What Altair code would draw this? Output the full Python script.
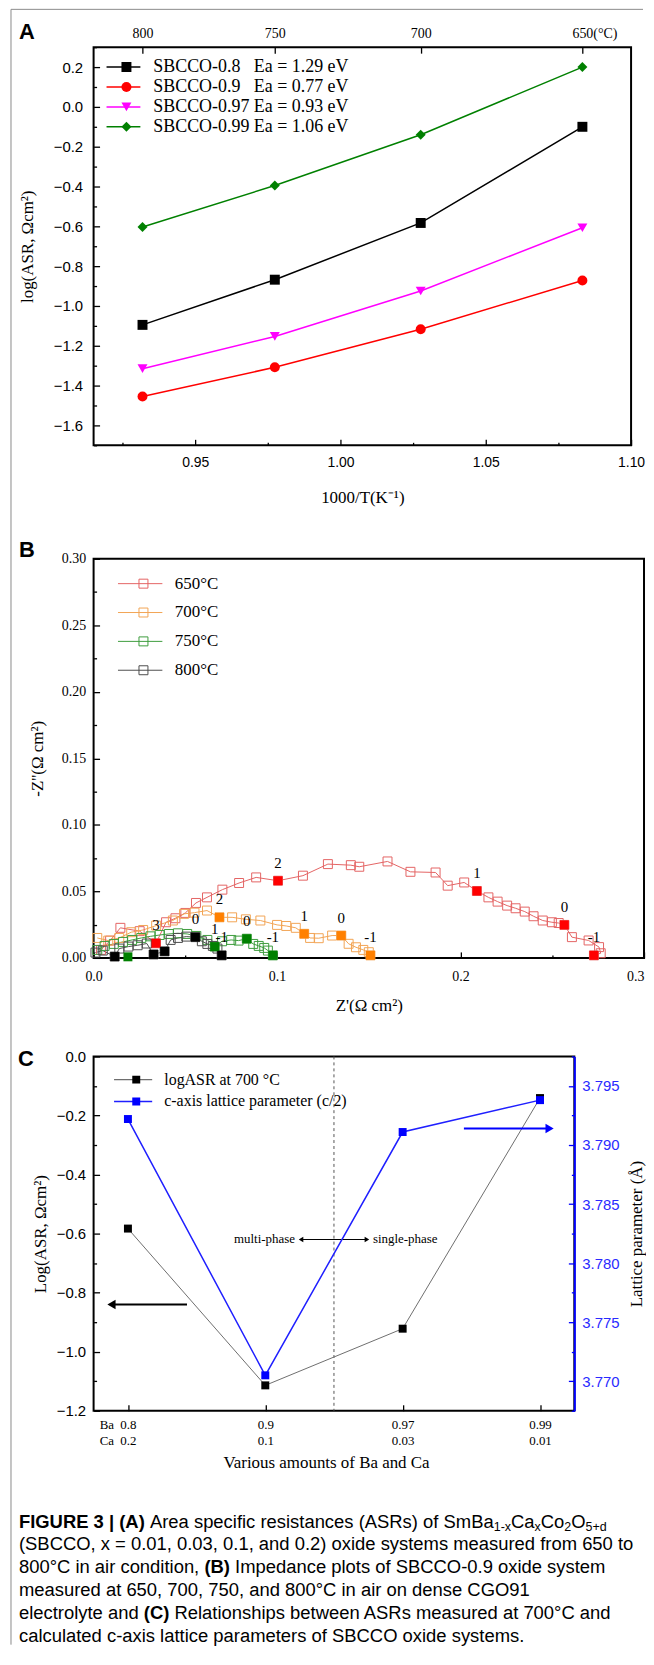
import altair as alt
import pandas as pd

SERIF = "Liberation Serif"
SANS = "Liberation Sans"
NB = "\u00a0"

# ---------------- Panel A data ----------------
temps_A = [800, 750, 700, 650]
names_A = ["SBCCO-0.8", "SBCCO-0.9", "SBCCO-0.97", "SBCCO-0.99"]
ea_A = ["1.29", "0.77", "0.93", "1.06"]
asr_08 = [-1.095, -0.868, -0.583, -0.100]
asr_09 = [-1.455, -1.308, -1.117, -0.872]
asr_097 = [-1.315, -1.153, -0.925, -0.607]
asr_099 = [-0.603, -0.395, -0.140, 0.200]
colors_A = ["#000000", "#ff0000", "#ff00ff", "#008000"]
shapes_A = ["square", "circle", "triangle-down", "diamond"]

# ---------------- Panel B data ----------------
temps_B = ["650°C", "700°C", "750°C", "800°C"]
zr_650 = [0.004, 0.009, 0.0146, 0.0251, 0.034, 0.0395, 0.0446, 0.0500, 0.0558, 0.0618, 0.0702, 0.0793, 0.0886,
          0.1005, 0.1141, 0.1277, 0.1402, 0.1448, 0.1602, 0.1727, 0.1864, 0.1930, 0.2020, 0.2089, 0.2152, 0.2202,
          0.2254, 0.2300, 0.2350, 0.2398, 0.2448, 0.2498, 0.2535, 0.2566, 0.2607, 0.2698, 0.2755, 0.2764, 0.2727]
zi_650 = [0.006, 0.013, 0.0226, 0.0201, 0.011, 0.0268, 0.0298, 0.0338, 0.0413, 0.0455, 0.0513, 0.0563, 0.0605,
          0.058, 0.0618, 0.0705, 0.0697, 0.0685, 0.0725, 0.0647, 0.0642, 0.0543, 0.0567, 0.0503, 0.0455, 0.0423,
          0.0393, 0.0373, 0.0348, 0.0313, 0.0281, 0.0268, 0.0262, 0.0248, 0.0156, 0.0131, 0.0081, 0.0035, 0.0019]
zr_700 = [0.002, 0.008, 0.014, 0.0205, 0.027, 0.0341, 0.0432, 0.0493, 0.055, 0.0618, 0.0686, 0.0755, 0.083,
          0.0909, 0.100, 0.105, 0.1102, 0.1148, 0.118, 0.1227, 0.130, 0.135, 0.139, 0.143, 0.147, 0.150, 0.1509]
zi_700 = [0.015, 0.013, 0.015, 0.0193, 0.021, 0.0243, 0.0281, 0.0331, 0.034, 0.0356, 0.0305, 0.0305, 0.029,
          0.0281, 0.0248, 0.024, 0.0226, 0.0181, 0.015, 0.0148, 0.0168, 0.0168, 0.0106, 0.008, 0.006, 0.0043, 0.0019]
zr_750 = [0.002, 0.006, 0.011, 0.016, 0.021, 0.026, 0.031, 0.036, 0.041, 0.046, 0.051, 0.056, 0.062, 0.066,
          0.070, 0.075, 0.079, 0.0835, 0.087, 0.090, 0.093, 0.095, 0.0977]
zi_750 = [0.006, 0.009, 0.0105, 0.012, 0.0135, 0.015, 0.0162, 0.0172, 0.018, 0.0185, 0.018, 0.0165, 0.0135,
          0.0085, 0.0125, 0.0135, 0.013, 0.0144, 0.0105, 0.009, 0.0075, 0.0055, 0.0019]
zr_800 = [0.001, 0.005, 0.0115, 0.014, 0.019, 0.024, 0.029, 0.0327, 0.0387, 0.042, 0.046, 0.0505, 0.0555,
          0.059, 0.062, 0.065, 0.0675, 0.0698]
zi_800 = [0.004, 0.0055, 0.001, 0.007, 0.0085, 0.0095, 0.0108, 0.0026, 0.0049, 0.0135, 0.015, 0.016, 0.0156,
          0.0125, 0.0105, 0.009, 0.007, 0.0019]
# decade markers (filled) with log(f) labels
fr_650 = [0.034, 0.1005, 0.2089, 0.2566, 0.2727]
fi_650 = [0.011, 0.058, 0.0503, 0.0248, 0.0019]
fl_650 = ["3", "2", "1", "0", "-1"]
fr_700 = [0.0686, 0.1148, 0.135, 0.1509]
fi_700 = [0.0305, 0.0181, 0.0168, 0.0019]
fl_700 = ["2", "1", "0", "-1"]
fr_750 = [0.0187, 0.066, 0.0835, 0.0977]
fi_750 = [0.0008, 0.0085, 0.0144, 0.0019]
fl_750 = ["", "1", "0", "-1"]
fr_800 = [0.0115, 0.0327, 0.0387, 0.0555, 0.0698]
fi_800 = [0.001, 0.0026, 0.0049, 0.0156, 0.0019]
fl_800 = ["", "", "", "0", "-1"]
open_colors_B = ["#e46464", "#f2a455", "#3d9c3d", "#4d4d4d"]
fill_colors_B = ["#ff0000", "#ff8000", "#008000", "#000000"]

# ---------------- Panel C data ----------------
ba_C = ["0.8", "0.9", "0.97", "0.99"]
ca_C = ["0.2", "0.1", "0.03", "0.01"]
logasr_700 = [-0.583, -1.114, -0.922, -0.141]
lattice_c2 = [3.7922, 3.7705, 3.7911, 3.7938]
names_C = ["logASR at 700 °C", "c-axis lattice parameter (c/2)"]
colors_C_line = ["#6e6e6e", "#1f1fff"]
colors_C_pt = ["#000000", "#0000ff"]
phase_boundary = [1.5]

# ---------------- helpers ----------------
ONE = pd.DataFrame({"o": [0]})


def ax(**kw):
    base = dict(grid=False, domain=False, tickColor="black", tickWidth=1.3, labelColor="black",
                titleColor="black", titleFont=SERIF, titleFontWeight="normal", titleFontSize=17,
                titleBaseline="middle", titleAlign="center",
                labelFontSize=14, labelFlush=False, labelOverlap=False)
    base.update(kw)
    return alt.Axis(**base)


def cond_tick(test, major=-6, minor=-3):
    return {"condition": {"test": test, "value": major}, "value": minor}


def txt(text, x, y, **kw):
    return alt.Chart(ONE).mark_text(text=text, **kw).encode(x=alt.value(x), y=alt.value(y))


def legend_common(**kw):
    base = dict(orient="none", title=None, direction="vertical", rowPadding=0, padding=0)
    base.update(kw)
    return alt.Legend(**base)


# ======================= PANEL A =======================
WA, HA = 540, 400
invT_A = [1000.0 / (t + 273.15) for t in temps_A]
labels_A = [n + (NB * 3 if len(n) < 10 else " ") + "Ea = " + e + " eV" for n, e in zip(names_A, ea_A)]
lkeys_A = [n + "|line" for n in names_A]
rowsA = []
for lab, lk, vals in zip(labels_A, lkeys_A, [asr_08, asr_09, asr_097, asr_099]):
    for xv, yv in zip(invT_A, vals):
        rowsA.append({"label": lab, "lkey": lk, "invT": xv, "logASR": yv})
dfA = pd.DataFrame(rowsA)

xA = alt.Scale(domain=[0.915, 1.10], nice=False, zero=False)
yA = alt.Scale(domain=[-1.7, 0.3], nice=False, zero=False)
xA_ticks = [round(0.925 + 0.025 * i, 3) for i in range(8)]
yA_ticks = [round(-1.7 + 0.1 * i, 1) for i in range(21)]
majA_x = "round(datum.value*1000) % 50 == 0"
majA_y = "abs(round(datum.value*10)) % 2 == 0"

axA_b = ax(values=xA_ticks, labelExpr=f"{majA_x} ? format(datum.value, '.2f') : ''",
           tickSize=cond_tick(majA_x), labelFont=SANS, labelPadding=16,
           title="1000/T(K⁻¹)", titleX=WA / 2, titleY=52)
axA_l = ax(values=yA_ticks, labelExpr=f"{majA_y} ? format(datum.value, '.1f') : ''",
           tickSize=cond_tick(majA_y), labelFont=SANS, labelFontSize=15, labelPadding=17,
           title="log(ASR, Ωcm²)", titleX=-66, titleY=HA / 2, titleAngle=270)
is650 = "round(1000/datum.value - 273.15) == 650"
axA_t = ax(orient="top", values=invT_A, title=None, labelFont=SERIF, labelFontSize=14,
           labelExpr=f"{is650} ? '650(°C)' : '' + round(1000/datum.value - 273.15)",
           labelAlign={"condition": {"test": is650, "value": "left"}, "value": "center"},
           labelOffset={"condition": {"test": is650, "value": -10.5}, "value": 0},
           tickSize={"expr": "-6"}, labelPadding=13)

lineA = alt.Chart(dfA).mark_line(strokeWidth=1.5).encode(
    x=alt.X("invT:Q", scale=xA, axis=axA_b),
    y=alt.Y("logASR:Q", scale=yA, axis=axA_l),
    stroke=alt.Stroke("lkey:N", scale=alt.Scale(domain=lkeys_A, range=colors_A),
                      legend=legend_common(legendX=12, legendY=10, symbolType="stroke", symbolSize=34 * 34,
                                           symbolStrokeWidth=1.5, clipHeight=20, labelExpr="''")),
    order=alt.Order("invT:Q"),
)
legA = legend_common(legendX=24, legendY=10, symbolSize=100, clipHeight=20, labelFont=SERIF,
                     labelFontSize=18, labelColor="black", labelOffset=18, labelLimit=400)
pointA = alt.Chart(dfA).mark_point(filled=True, opacity=1, size=100).encode(
    x=alt.X("invT:Q", scale=xA, axis=axA_t),
    y=alt.Y("logASR:Q", scale=yA, axis=axA_l),
    color=alt.Color("label:N", scale=alt.Scale(domain=labels_A, range=colors_A), legend=legA),
    shape=alt.Shape("label:N", scale=alt.Scale(domain=labels_A, range=shapes_A), legend=legA),
)
frame_v = alt.Chart(ONE).mark_rule(color="#8a8a8a", strokeWidth=1).encode(
    x=alt.value(-83), y=alt.value(-38), y2=alt.value(1605))
frame_h = alt.Chart(ONE).mark_rule(color="#8a8a8a", strokeWidth=1).encode(
    x=alt.value(-83), x2=alt.value(552), y=alt.value(-38))
letterA = txt("A", -67, -15, font=SANS, fontSize=22, fontWeight="bold", align="center", baseline="middle")

panelA = alt.layer(lineA, pointA, frame_v, frame_h, letterA).resolve_axis(x="independent").properties(
    width=WA, height=HA, view=alt.ViewBackground(stroke="black", strokeWidth=2))

# ======================= PANEL B =======================
WB, HB = 553, 401
open_sets = [(zr_650, zi_650), (zr_700, zi_700), (zr_750, zi_750), (zr_800, zi_800)]
fill_sets = [(fr_650, fi_650, fl_650), (fr_700, fi_700, fl_700), (fr_750, fi_750, fl_750), (fr_800, fi_800, fl_800)]
lkeys_B = [t + "|line" for t in temps_B]
fkeys_B = [t + "|fill" for t in temps_B]
rowsB, rowsBf = [], []
for t, lk, (xs, ys) in zip(temps_B, lkeys_B, open_sets):
    for k, (xv, yv) in enumerate(zip(xs, ys)):
        rowsB.append({"T": t, "lkey": lk, "k": k, "zr": xv, "zi": yv})
for fk, (xs, ys, ls) in zip(fkeys_B, fill_sets):
    for xv, yv, lv in zip(xs, ys, ls):
        rowsBf.append({"fkey": fk, "zr": xv, "zi": yv, "lab": lv})
dfB = pd.DataFrame(rowsB)
dfBf = pd.DataFrame(rowsBf)
dfBl = dfBf[dfBf["lab"] != ""]

xB = alt.Scale(domain=[0, 0.3], nice=False, zero=False)
yB = alt.Scale(domain=[0, 0.3], nice=False, zero=False)
xB_ticks = [round(0.05 * i, 2) for i in range(7)]
yB_ticks = [round(0.025 * i, 3) for i in range(13)]
majB_x = "round(datum.value*100) % 10 == 0"
majB_y = "round(datum.value*1000) % 50 == 0"
axB_b = ax(values=xB_ticks, labelExpr=f"{majB_x} ? format(datum.value, '.1f') : ''",
           tickSize=cond_tick(majB_x), labelFont=SERIF, labelFontSize=14, labelPadding=18,
           labelAlign={"condition": {"test": "datum.value > 0.29", "value": "right"}, "value": "center"},
           title="Z'(Ω cm²)", titleX=WB / 2, titleY=47.5)
axB_l = ax(values=yB_ticks, labelExpr=f"{majB_y} ? format(datum.value, '.2f') : ''",
           tickSize=cond_tick(majB_y), labelFont=SERIF, labelFontSize=14, labelPadding=14,
           title="-Z''(Ω cm²)", titleX=-56, titleY=HB / 2, titleAngle=270)
XB = dict(scale=xB, axis=axB_b)
YB = dict(scale=yB, axis=axB_l)

lineB = alt.Chart(dfB).mark_line(strokeWidth=1).encode(
    x=alt.X("zr:Q", **XB),
    y=alt.Y("zi:Q", **YB),
    stroke=alt.Stroke("lkey:N", scale=alt.Scale(domain=lkeys_B, range=open_colors_B),
                      legend=legend_common(legendX=23.8, legendY=10.85, symbolType="stroke", symbolSize=1989,
                                           symbolStrokeWidth=1, clipHeight=28.3, labelExpr="''")),
    order=alt.Order("k:Q"),
)
openB = alt.Chart(dfB).mark_point(shape="square", filled=False, size=81, strokeWidth=1, opacity=1).encode(
    x=alt.X("zr:Q", **XB),
    y=alt.Y("zi:Q", **YB),
    color=alt.Color("T:N", scale=alt.Scale(domain=temps_B, range=open_colors_B),
                    legend=legend_common(legendX=41.6, legendY=10.85, symbolType="square", symbolSize=81,
                                         symbolStrokeWidth=1, clipHeight=28.3, labelFont=SERIF, labelFontSize=17,
                                         labelColor="black", labelOffset=23)),
)
fillB = alt.Chart(dfBf).mark_point(shape="square", filled=True, size=81, opacity=1).encode(
    x=alt.X("zr:Q", **XB),
    y=alt.Y("zi:Q", **YB),
    fill=alt.Fill("fkey:N", scale=alt.Scale(domain=fkeys_B, range=fill_colors_B), legend=None),
)
textB = alt.Chart(dfBl).mark_text(font=SERIF, fontSize=15, dy=-18, color="black").encode(
    x=alt.X("zr:Q", **XB),
    y=alt.Y("zi:Q", **YB),
    text="lab:N",
)
letterB = txt("B", -67, -9, font=SANS, fontSize=22, fontWeight="bold", align="center", baseline="middle")
panelB = alt.layer(lineB, openB, fillB, textB, letterB).properties(
    width=WB, height=HB, view=alt.ViewBackground(stroke="black", strokeWidth=2))

# ======================= PANEL C =======================
WC, HC = 483, 356
idx_C = list(range(len(ba_C)))
dfC1 = pd.DataFrame({"i": idx_C, "v": logasr_700, "name": names_C[0], "lkey": names_C[0] + "|line"})
dfC2 = pd.DataFrame({"i": idx_C, "v": lattice_c2, "name": names_C[1], "lkey": names_C[1] + "|line"})
lkeys_C = [n + "|line" for n in names_C]

xC = alt.Scale(domain=[-0.25, 3.25], nice=False, zero=False)
yC1 = alt.Scale(domain=[-1.2, 0.0], nice=False, zero=False)
yC2 = alt.Scale(domain=[3.7675, 3.7975], nice=False, zero=False)
yC1_ticks = [round(-1.2 + 0.1 * i, 1) for i in range(13)]
yC2_ticks = [round(3.7675 + 0.0025 * i, 4) for i in range(13)]
majC1 = "abs(round(datum.value*10)) % 2 == 0"
majC2 = "round(datum.value*10000) % 50 == 0"
ba_js = "[" + ",".join(f"'{b}'" for b in ba_C) + "]"
ca_js = "[" + ",".join(f"'{c}'" for c in ca_C) + "]"
axC_b = ax(values=idx_C, labelExpr=f"[{ba_js}[datum.value], {ca_js}[datum.value]]",
           tickSize={"expr": "-6"}, labelFont=SERIF, labelFontSize=13, labelLineHeight=16.6,
           labelPadding=13.5, title="Various amounts of Ba and Ca", titleX=WC / 2 - 8, titleY=52.3)
axC_l = ax(values=yC1_ticks, labelExpr=f"{majC1} ? format(datum.value, '.1f') : ''",
           tickSize=cond_tick(majC1), labelFont=SANS, labelFontSize=15, labelPadding=14,
           title="Log(ASR, Ωcm²)", titleX=-53, titleY=HC / 2, titleAngle=270)
axC_r = ax(orient="right", values=yC2_ticks, labelExpr=f"{majC2} ? format(datum.value, '.3f') : ''",
           tickSize=cond_tick(majC2), labelFont=SANS, labelFontSize=15, labelPadding=13.5,
           labelColor="#2a2aff", tickColor="#0000ff", domain=True, domainColor="#0000ff", domainWidth=2,
           title="Lattice parameter (Å)", titleX=62, titleY=HC / 2, titleAngle=270)
XC = dict(scale=xC, axis=axC_b)
YC1 = dict(scale=yC1, axis=axC_l)
YC2 = dict(scale=yC2, axis=axC_r)

strokeC = alt.Stroke("lkey:N", scale=alt.Scale(domain=lkeys_C, range=colors_C_line),
                     legend=legend_common(legendX=19.7, legendY=12.45, symbolType="stroke", symbolSize=1467,
                                          symbolStrokeWidth=1.5, clipHeight=21.7, labelExpr="''"))
colorC = alt.Color("name:N", scale=alt.Scale(domain=names_C, range=colors_C_pt),
                   legend=legend_common(legendX=34.85, legendY=12.45, symbolType="square", symbolSize=64,
                                        clipHeight=21.7, labelFont=SERIF, labelFontSize=16, labelColor="black",
                                        labelOffset=20.15, labelLimit=400))

asr_line = alt.Chart(dfC1).mark_line(strokeWidth=1).encode(
    x=alt.X("i:Q", **XC), y=alt.Y("v:Q", **YC1), stroke=strokeC)
asr_pts = alt.Chart(dfC1).mark_point(shape="square", filled=True, size=64, opacity=1).encode(
    x=alt.X("i:Q", **XC), y=alt.Y("v:Q", **YC1), color=colorC)
bound = alt.Chart(pd.DataFrame({"b": phase_boundary})).mark_rule(
    color="#555555", strokeWidth=1, strokeDash=[3, 3]).encode(
    x=alt.X("b:Q", **XC), y=alt.value(0), y2=alt.value(HC))
# annotation: multi-phase <-> single-phase
ann = pd.DataFrame({"x0": [1.26], "x1": [1.74], "y": [-0.62]})
ann_rule = alt.Chart(ann).mark_rule(color="black", strokeWidth=1).encode(
    x=alt.X("x0:Q", **XC), x2="x1:Q", y=alt.Y("y:Q", **YC1))
ann_l = alt.Chart(ann).mark_point(shape="triangle-left", filled=True, size=28, color="black", opacity=1).encode(
    x=alt.X("x0:Q", **XC), y=alt.Y("y:Q", **YC1))
ann_r = alt.Chart(ann).mark_point(shape="triangle-right", filled=True, size=28, color="black", opacity=1).encode(
    x=alt.X("x1:Q", **XC), y=alt.Y("y:Q", **YC1))
ann_t1 = alt.Chart(ann).mark_text(text="multi-phase", font=SERIF, fontSize=13, align="right", dx=-6,
                                  color="black").encode(
    x=alt.X("x0:Q", **XC), y=alt.Y("y:Q", **YC1))
ann_t2 = alt.Chart(ann).mark_text(text="single-phase", font=SERIF, fontSize=13, align="left", dx=6,
                                  color="black").encode(
    x=alt.X("x1:Q", **XC), y=alt.Y("y:Q", **YC1))
# arrow pointing to the left axis
arrL = pd.DataFrame({"x0": [0.43], "x1": [-0.12], "y": [-0.84]})
arrL_rule = alt.Chart(arrL).mark_rule(color="black", strokeWidth=2).encode(
    x=alt.X("x0:Q", **XC), x2="x1:Q", y=alt.Y("y:Q", **YC1))
arrL_head = alt.Chart(arrL).mark_point(shape="triangle-left", filled=True, size=90, color="black",
                                       opacity=1).encode(
    x=alt.X("x1:Q", **XC), y=alt.Y("y:Q", **YC1))
# Ba / Ca row captions
ba_txt = alt.Chart(pd.DataFrame({"i": [0]})).mark_text(text="Ba", font=SERIF, fontSize=13, align="right",
                                                        dx=-14, color="black").encode(
    x=alt.X("i:Q", **XC), y=alt.value(HC + 14))
ca_txt = alt.Chart(pd.DataFrame({"i": [0]})).mark_text(text="Ca", font=SERIF, fontSize=13, align="right",
                                                        dx=-14, color="black").encode(
    x=alt.X("i:Q", **XC), y=alt.value(HC + 30.6))
letterC = txt("C", -68, 2.3, font=SANS, fontSize=22, fontWeight="bold", align="center", baseline="middle")

lat_line = alt.Chart(dfC2).mark_line(strokeWidth=1.5).encode(
    x=alt.X("i:Q", **XC), y=alt.Y("v:Q", **YC2), stroke=strokeC)
lat_pts = alt.Chart(dfC2).mark_point(shape="square", filled=True, size=64, opacity=1).encode(
    x=alt.X("i:Q", **XC), y=alt.Y("v:Q", **YC2), color=colorC)
arrR = pd.DataFrame({"x0": [2.446], "x1": [3.07], "y": [3.7914]})
arrR_rule = alt.Chart(arrR).mark_rule(color="#0000ff", strokeWidth=2).encode(
    x=alt.X("x0:Q", **XC), x2="x1:Q", y=alt.Y("y:Q", **YC2))
arrR_head = alt.Chart(arrR).mark_point(shape="triangle-right", filled=True, size=90, color="#0000ff",
                                       opacity=1).encode(
    x=alt.X("x1:Q", **XC), y=alt.Y("y:Q", **YC2))

leftC = alt.layer(bound, asr_line, asr_pts, ann_rule, ann_l, ann_r, ann_t1, ann_t2, arrL_rule, arrL_head,
                  ba_txt, ca_txt, letterC)
rightC = alt.layer(lat_line, lat_pts, arrR_rule, arrR_head)
panelC = alt.layer(leftC, rightC).resolve_scale(y="independent").properties(
    width=WC, height=HC, view=alt.ViewBackground(stroke="black", strokeWidth=2))

# ======================= CAPTION =======================
REG = dict(zip(" ()+,-./=|°", [278, 333, 333, 584, 278, 333, 278, 278, 584, 260, 400]))
REG.update({d: 556 for d in "0123456789"})
REG.update(dict(zip("ABCDEFGHIJKLMNOPQRSTUVWXYZ",
                    [667, 667, 722, 722, 667, 611, 778, 722, 278, 500, 667, 556, 833, 722, 778, 667, 778, 722, 667,
                     611, 722, 667, 944, 667, 667, 611])))
REG.update(dict(zip("abcdefghijklmnopqrstuvwxyz",
                    [556, 556, 500, 556, 556, 278, 556, 556, 222, 222, 500, 222, 833, 556, 556, 556, 556, 333, 500,
                     278, 556, 500, 722, 500, 500, 500])))
BOLD = dict(REG)
BOLD.update({"A": 722, "B": 722, "C": 722, "F": 611, "G": 778, "I": 278, "R": 722, "U": 722, "E": 667, "|": 280})


def tw(s, fs, bold=False):
    tab = BOLD if bold else REG
    return sum(tab.get(ch, 556) for ch in s) * fs / 1000.0


cap_lines = [
    [("FIGURE 3 | (A)", "b"), (" Area specific resistances (ASRs) of SmBa", "n"), ("1-x", "s"), ("Ca", "n"),
     ("x", "s"), ("Co", "n"), ("2", "s"), ("O", "n"), ("5+d", "s")],
    [("(SBCCO, x = 0.01, 0.03, 0.1, and 0.2) oxide systems measured from 650 to", "n")],
    [("800°C in air condition, ", "n"), ("(B)", "b"), (" Impedance plots of SBCCO-0.9 oxide system", "n")],
    [("measured at 650, 700, 750, and 800°C in air on dense CGO91", "n")],
    [("electrolyte and ", "n"), ("(C)", "b"), (" Relationships between ASRs measured at 700°C and", "n")],
    [("calculated c-axis lattice parameters of SBCCO oxide systems.", "n")],
]
CAP_FS, SUB_FS = 18.5, 12.5
CAP_X0, CAP_Y0, CAP_DY = -75, 111.3, 23
cap_layers = []
for li, segs in enumerate(cap_lines):
    cur = 0.0
    y = CAP_Y0 + li * CAP_DY
    for s, st in segs:
        fs = SUB_FS if st == "s" else CAP_FS
        bold = st == "b"
        lead = len(s) - len(s.lstrip(" "))
        cur += tw(" " * lead, fs, bold)
        body = s.strip(" ")
        kw = dict(font=SANS, fontSize=fs, align="left", baseline="middle", color="black")
        if bold:
            kw["fontWeight"] = "bold"
        if st == "s":
            kw["dy"] = 5
        cap_layers.append(txt(body, CAP_X0 + cur, y, **kw))
        cur += tw(body, fs, bold)
        trail = len(s) - len(s.rstrip(" "))
        cur += tw(" " * trail, fs, bold)
caption = alt.layer(*cap_layers).properties(width=540, height=230,
                                            view=alt.ViewBackground(stroke="transparent"))


def spacer(h):
    return alt.Chart(ONE).mark_point(opacity=0).encode(x=alt.value(0), y=alt.value(0)).properties(
        width=10, height=h, view=alt.ViewBackground(stroke="transparent"))


chart = alt.vconcat(panelA, spacer(113.7), panelB, spacer(99), panelC, caption, spacing=0, bounds="flush")
chart = chart.resolve_scale(color="independent", stroke="independent", shape="independent", fill="independent")
chart = chart.properties(padding={"left": 1, "top": -4.5, "right": 0, "bottom": 0}).configure_view(
    stroke="transparent")

chart.save("out.html", embed_options={"renderer": "svg", "actions": False})
